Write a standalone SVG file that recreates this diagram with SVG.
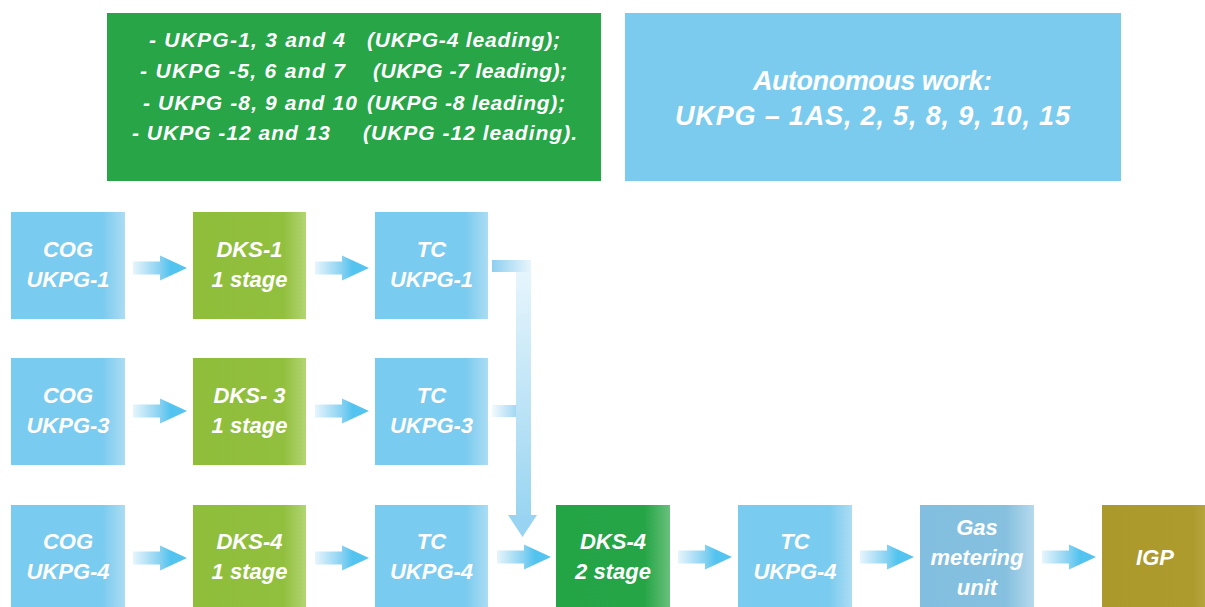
<svg xmlns="http://www.w3.org/2000/svg" width="1205" height="607" viewBox="0 0 1205 607">
<style>
text{font-family:"Liberation Sans",Arial,sans-serif;font-weight:bold;font-style:italic;fill:#ffffff}
.n{font-size:22px;text-anchor:middle}
.g{font-size:21px}
.b{font-size:27px;text-anchor:middle}
</style>
<defs>
<linearGradient id="gBlue" x1="0" y1="0" x2="1" y2="0"><stop offset="0" stop-color="#79cbef"/><stop offset="0.8" stop-color="#79cbef"/><stop offset="1" stop-color="#acdcf3"/></linearGradient>
<linearGradient id="gLime" x1="0" y1="0" x2="1" y2="0"><stop offset="0" stop-color="#8fbe3b"/><stop offset="0.8" stop-color="#91bf3e"/><stop offset="1" stop-color="#b2d572"/></linearGradient>
<linearGradient id="gGreen" x1="0" y1="0" x2="1" y2="0"><stop offset="0" stop-color="#23a445"/><stop offset="0.78" stop-color="#26a547"/><stop offset="1" stop-color="#68c07c"/></linearGradient>
<linearGradient id="gGas" x1="0" y1="0" x2="1" y2="0"><stop offset="0" stop-color="#82bedf"/><stop offset="0.75" stop-color="#85c0df"/><stop offset="1" stop-color="#b6d9ec"/></linearGradient>
<linearGradient id="gIgp" x1="0" y1="0" x2="1" y2="0"><stop offset="0" stop-color="#ab992c"/><stop offset="0.8" stop-color="#ad9b2e"/><stop offset="1" stop-color="#bfae4a"/></linearGradient>
<linearGradient id="gArrow" x1="0" y1="0" x2="1" y2="0"><stop offset="0" stop-color="#e6f5fc"/><stop offset="0.5" stop-color="#86d1f1"/><stop offset="0.7" stop-color="#52c3ef"/><stop offset="1" stop-color="#56c4ef"/></linearGradient>
<linearGradient id="gStub1" x1="0" y1="0" x2="1" y2="0"><stop offset="0" stop-color="#8dd0f0"/><stop offset="1" stop-color="#e8f5fc"/></linearGradient>
<linearGradient id="gStub3" x1="0" y1="0" x2="1" y2="0"><stop offset="0" stop-color="#f2fafd"/><stop offset="1" stop-color="#a3d8f2"/></linearGradient>
<linearGradient id="gVert" x1="0" y1="0" x2="0" y2="1"><stop offset="0" stop-color="#e6f5fc"/><stop offset="1" stop-color="#9ad5f1"/></linearGradient>
<path id="arr" d="M0,-6.5 H27 V-12.5 L54,0 L27,12.5 V6.5 H0 Z" fill="url(#gArrow)"/>
</defs>

<g id="group-box">
<rect x="107" y="13" width="494" height="168" fill="#27a547"/>
<text class="g" x="149" y="47" textLength="196" lengthAdjust="spacing">- UKPG-1, 3 and 4</text>
<text class="g" x="367" y="47" textLength="193" lengthAdjust="spacing">(UKPG-4 leading);</text>
<text class="g" x="140" y="78" textLength="205" lengthAdjust="spacing">- UKPG -5, 6 and 7</text>
<text class="g" x="373" y="78" textLength="194" lengthAdjust="spacing">(UKPG -7 leading);</text>
<text class="g" x="143" y="110" textLength="214" lengthAdjust="spacing">- UKPG -8, 9 and 10</text>
<text class="g" x="367" y="110" textLength="198" lengthAdjust="spacing">(UKPG -8 leading);</text>
<text class="g" x="132" y="140" textLength="198" lengthAdjust="spacing">- UKPG -12 and 13</text>
<text class="g" x="363" y="140" textLength="214" lengthAdjust="spacing">(UKPG -12 leading).</text>
</g>

<g id="autonomous-box">
<rect x="625" y="13" width="496" height="168" fill="#7acbee"/>
<text class="b" x="872.5" y="90" textLength="239" lengthAdjust="spacing">Autonomous work:</text>
<text class="b" x="872.5" y="125" textLength="395" lengthAdjust="spacing">UKPG – 1AS, 2, 5, 8, 9, 10, 15</text>
</g>

<g id="cog1"><rect x="11" y="212" width="114" height="107" fill="url(#gBlue)"/><text class="n" x="68" y="257">COG</text><text class="n" x="68" y="287">UKPG-1</text></g>
<g id="dks1"><rect x="193" y="212" width="113" height="107" fill="url(#gLime)"/><text class="n" x="249.5" y="257">DKS-1</text><text class="n" x="249.5" y="287">1 stage</text></g>
<g id="tc1"><rect x="375" y="212" width="113" height="107" fill="url(#gBlue)"/><text class="n" x="431.5" y="257">TC</text><text class="n" x="431.5" y="287">UKPG-1</text></g>

<g id="cog3"><rect x="11" y="358" width="114" height="107" fill="url(#gBlue)"/><text class="n" x="68" y="403">COG</text><text class="n" x="68" y="433">UKPG-3</text></g>
<g id="dks3"><rect x="193" y="358" width="113" height="107" fill="url(#gLime)"/><text class="n" x="249.5" y="403">DKS- 3</text><text class="n" x="249.5" y="433">1 stage</text></g>
<g id="tc3"><rect x="375" y="358" width="113" height="107" fill="url(#gBlue)"/><text class="n" x="431.5" y="403">TC</text><text class="n" x="431.5" y="433">UKPG-3</text></g>

<g id="cog4"><rect x="11" y="505" width="114" height="107" fill="url(#gBlue)"/><text class="n" x="68" y="549">COG</text><text class="n" x="68" y="579">UKPG-4</text></g>
<g id="dks4"><rect x="193" y="505" width="113" height="107" fill="url(#gLime)"/><text class="n" x="249.5" y="549">DKS-4</text><text class="n" x="249.5" y="579">1 stage</text></g>
<g id="tc4"><rect x="375" y="505" width="113" height="107" fill="url(#gBlue)"/><text class="n" x="431.5" y="549">TC</text><text class="n" x="431.5" y="579">UKPG-4</text></g>
<g id="dks4-2"><rect x="556" y="505" width="114" height="107" fill="url(#gGreen)"/><text class="n" x="613" y="549">DKS-4</text><text class="n" x="613" y="579">2 stage</text></g>
<g id="tc4-2"><rect x="738" y="505" width="114" height="107" fill="url(#gBlue)"/><text class="n" x="795" y="549">TC</text><text class="n" x="795" y="579">UKPG-4</text></g>
<g id="gas-metering"><rect x="920" y="505" width="114" height="107" fill="url(#gGas)"/><text class="n" x="977" y="535">Gas</text><text class="n" x="977" y="565">metering</text><text class="n" x="977" y="595">unit</text></g>
<g id="igp"><rect x="1102" y="505" width="114" height="107" fill="url(#gIgp)"/><text class="n" x="1155" y="565">IGP</text></g>

<g id="connectors">
<use href="#arr" x="133" y="268"/>
<use href="#arr" x="315" y="268"/>
<use href="#arr" x="133" y="411"/>
<use href="#arr" x="315" y="411"/>
<use href="#arr" x="133" y="558"/>
<use href="#arr" x="315" y="558"/>
<use href="#arr" x="497" y="557"/>
<use href="#arr" x="678" y="557"/>
<use href="#arr" x="860" y="557"/>
<use href="#arr" x="1042" y="557"/>
<rect x="492" y="260" width="39" height="12" fill="url(#gStub1)"/>
<rect x="516" y="272" width="15" height="243" fill="url(#gVert)"/>
<rect x="492" y="405" width="24" height="12" fill="url(#gStub3)"/>
<polygon points="508,515 537,515 522.5,537" fill="#98d4f1"/>
</g>
</svg>
